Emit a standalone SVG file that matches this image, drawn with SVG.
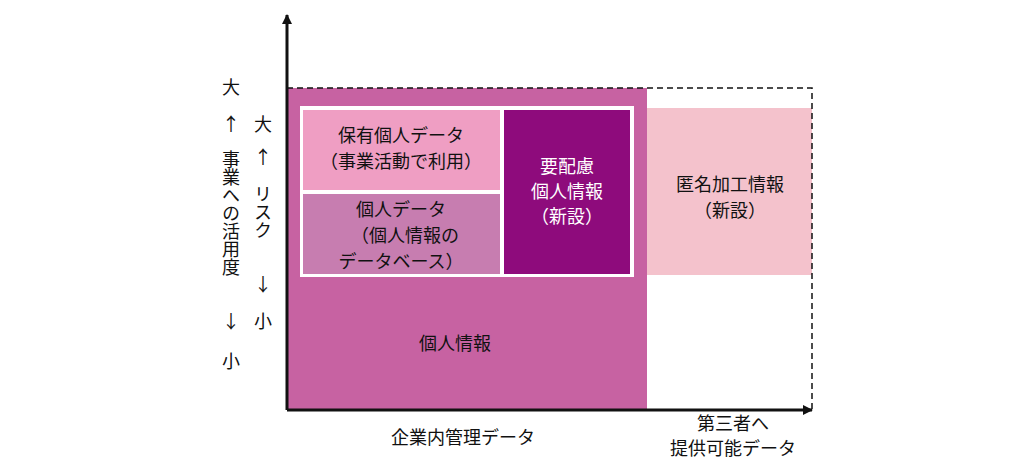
<svg xmlns="http://www.w3.org/2000/svg" width="1030" height="464" viewBox="0 0 1030 464">
<style>
text{font-family:"Noto Sans CJK JP","Noto Sans",sans-serif;font-size:18px;fill:#111;text-anchor:middle}
.w{fill:#fff}
.v{writing-mode:vertical-rl;glyph-orientation-vertical:0;text-anchor:start}
</style>
<defs><marker id="a" markerWidth="10" markerHeight="10" refX="9" refY="5" orient="auto" markerUnits="userSpaceOnUse"><path d="M0,0L10,5L0,10z" fill="#111"/></marker></defs>
<rect width="1030" height="464" fill="#fff"/>
<g id="personal"><rect x="287" y="88" width="360" height="322" fill="#c762a2"/><text x="455" y="350">個人情報</text></g>
<g id="anon"><rect x="647" y="108" width="165" height="167" fill="#f4c2cc"/><text x="730" y="191">匿名加工情報</text><text x="730" y="217">（新設）</text></g>
<rect x="300" y="106" width="334" height="171" fill="#fff"/>
<g id="hoyu"><rect x="303" y="110" width="197" height="80" fill="#ef9ec3"/><text x="401" y="142">保有個人データ</text><text x="401" y="168">（事業活動で利用）</text></g>
<g id="kojindata"><rect x="303" y="194" width="197" height="80" fill="#c77db0"/><text x="401" y="216">個人データ</text><text x="405" y="242">（個人情報の</text><text x="401" y="268">データベース）</text></g>
<g id="youhairyo"><rect x="504" y="110" width="126" height="164" fill="#8e0b7c"/><text class="w" x="567" y="173">要配慮</text><text class="w" x="567" y="198">個人情報</text><text class="w" x="567" y="223">（新設）</text></g>
<g id="connectors" stroke="#111" fill="none">
<path d="M287 88H812V410" stroke-dasharray="6,4" stroke-width="1.5"/>
<line x1="287" y1="410" x2="287" y2="15" stroke-width="3" marker-end="url(#a)"/>
<line x1="287" y1="410" x2="812" y2="410" stroke-width="3" marker-end="url(#a)"/>
</g>
<g id="labels">
<text x="231" y="94">大</text><text x="231" y="131">↑</text>
<text class="v" x="231" y="150">事業への活用度</text>
<text x="231" y="328">↓</text><text x="231" y="368">小</text>
<text x="263" y="131">大</text><text x="263" y="164">↑</text>
<text class="v" x="263" y="185">リスク</text>
<text x="263" y="291">↓</text><text x="263" y="328">小</text>
<text x="463" y="444">企業内管理データ</text>
<text x="733" y="430">第三者へ</text><text x="733" y="455">提供可能データ</text>
</g>
</svg>
